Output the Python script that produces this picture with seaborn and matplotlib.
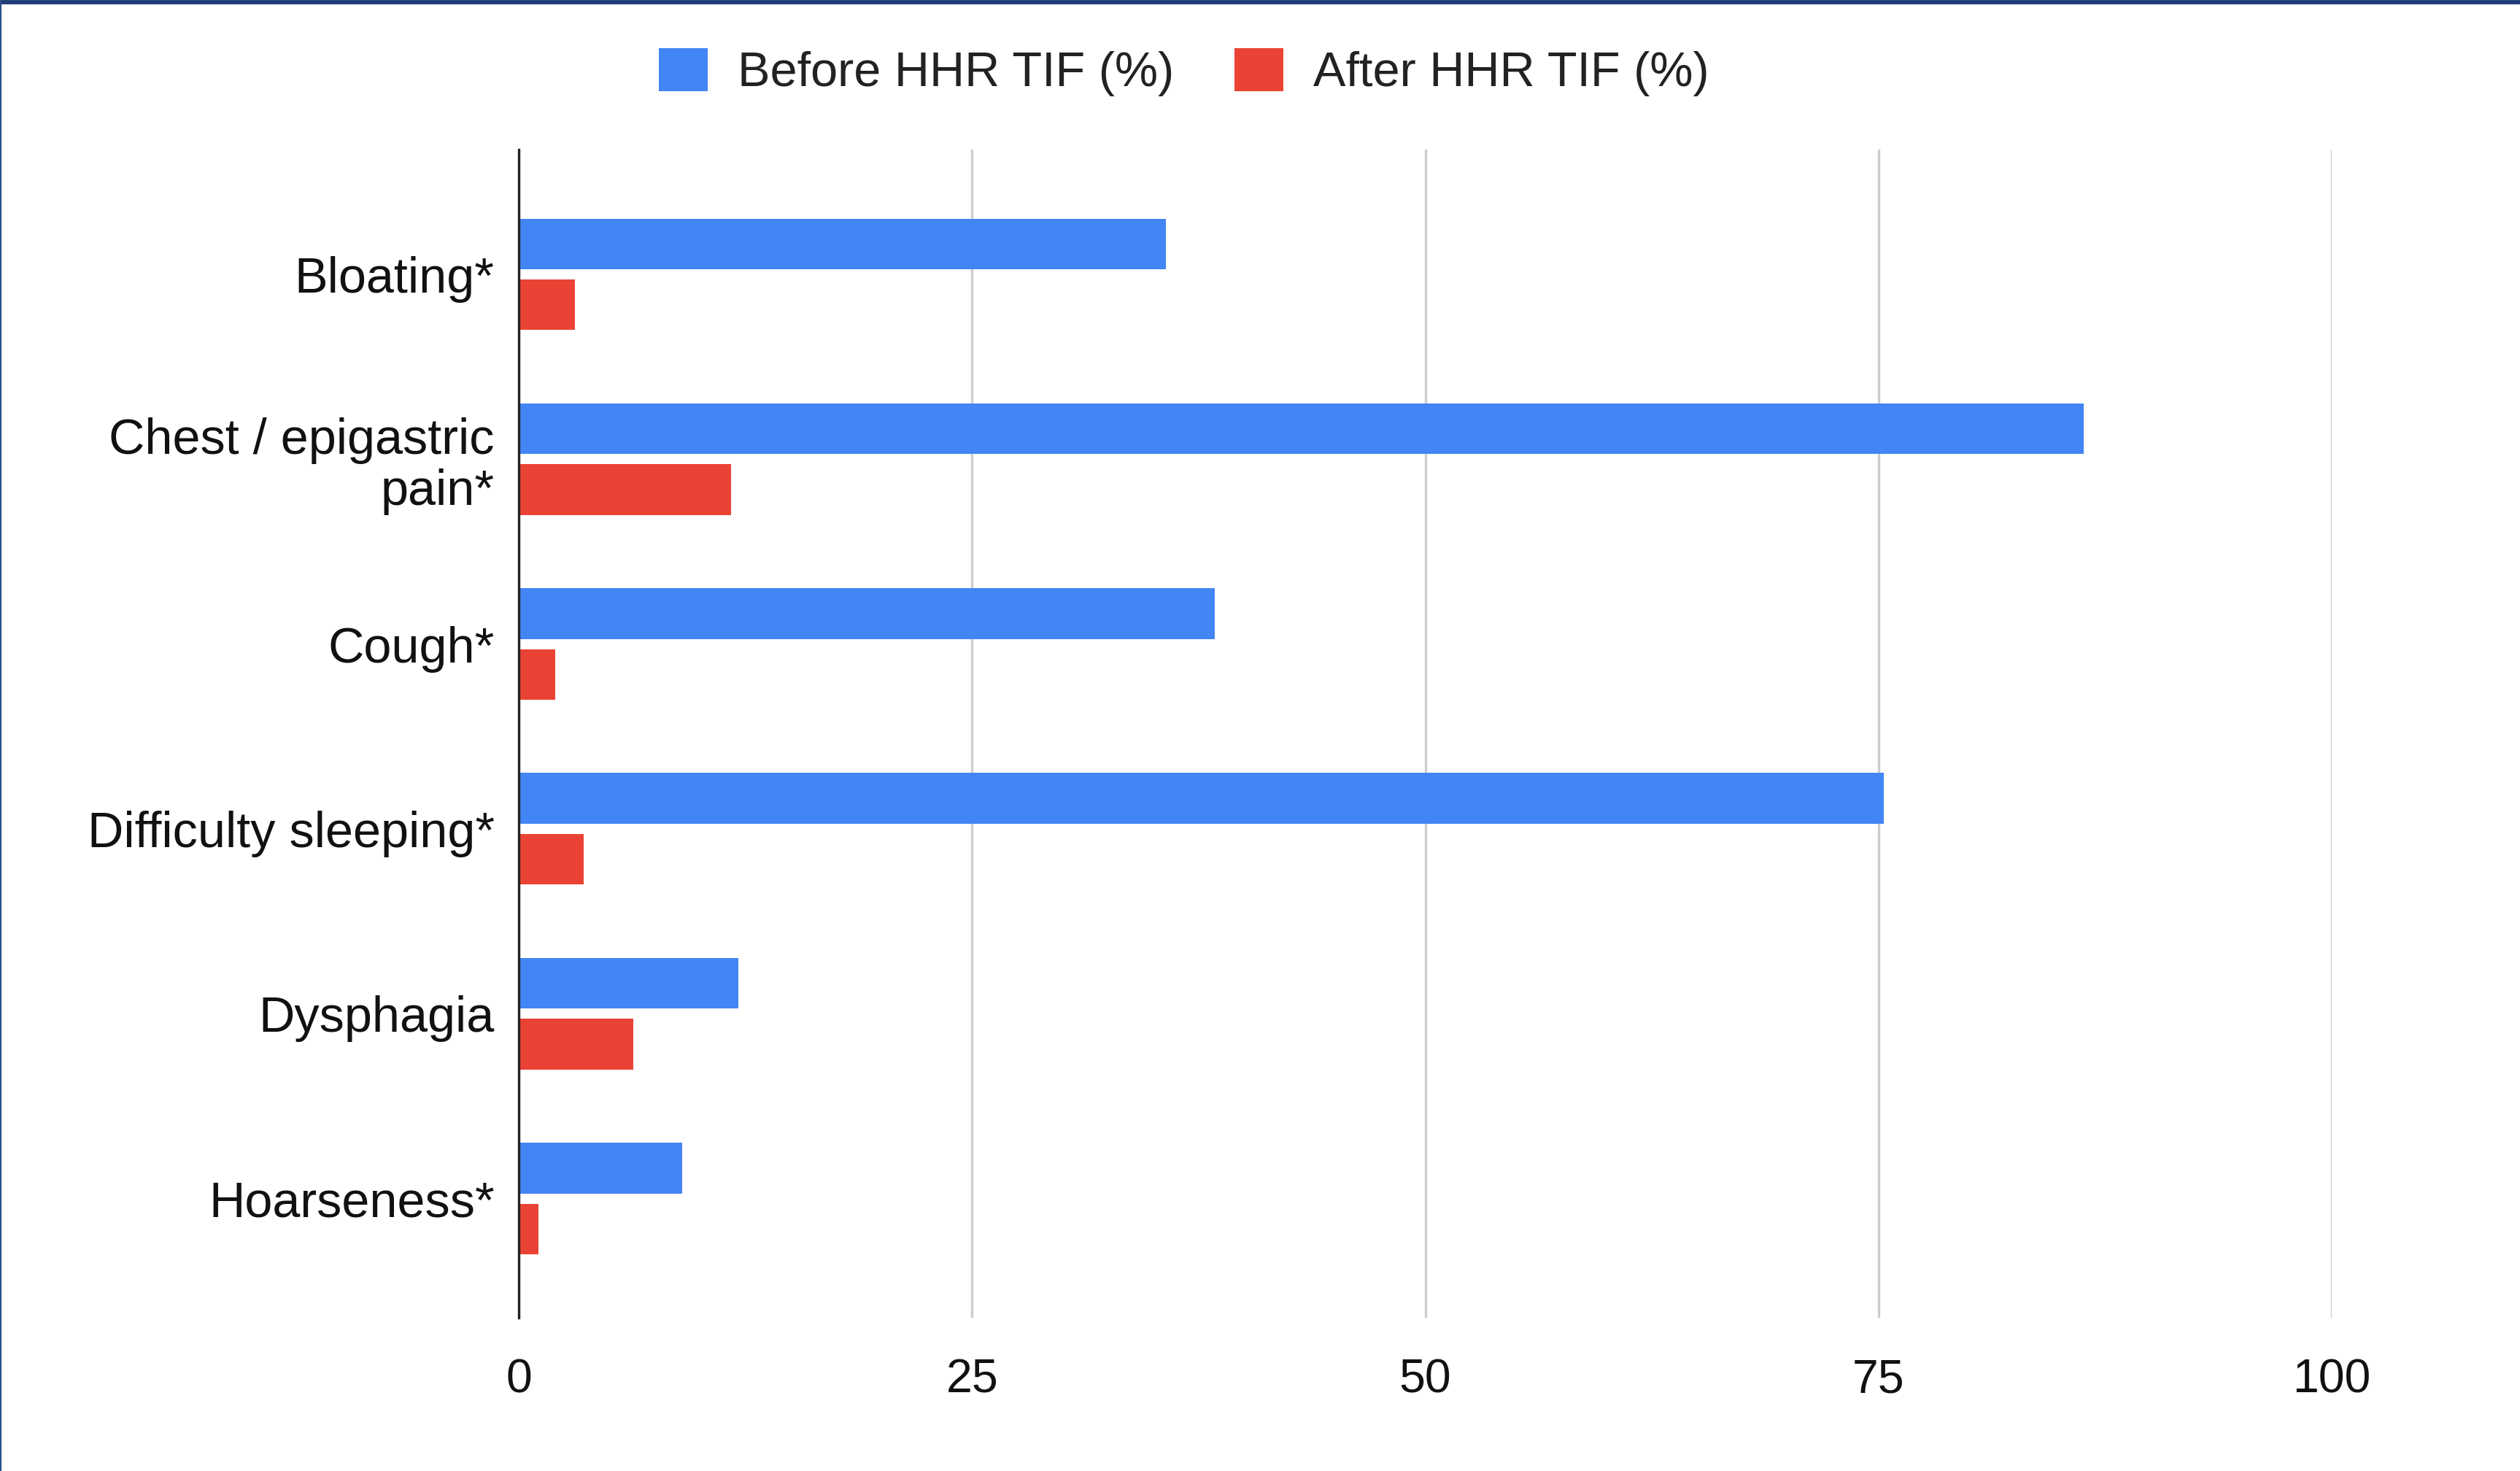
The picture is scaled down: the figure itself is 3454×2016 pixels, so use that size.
import matplotlib
matplotlib.use("Agg")
import matplotlib.pyplot as plt
from matplotlib.patches import Patch
from matplotlib.lines import Line2D
import seaborn as sns
import pandas as pd

# ---- data ----
symptoms = ["Bloating*", "Chest / epigastric\npain*", "Cough*",
            "Difficulty sleeping*", "Dysphagia", "Hoarseness*"]
before_vals = [35.7, 86.3, 38.4, 75.3, 12.1, 9.0]
after_vals = [3.1, 11.7, 2.0, 3.6, 6.3, 1.1]
series_names = ["Before HHR TIF (%)", "After HHR TIF (%)"]
x_ticks = [0, 25, 50, 75, 100]

BLUE = "#4285F4"
RED = "#EA4335"

df = pd.DataFrame({
    "symptom": symptoms * 2,
    "value": before_vals + after_vals,
    "series": [series_names[0]] * len(symptoms) + [series_names[1]] * len(symptoms),
})

sns.set_style("white")
plt.rcParams["font.family"] = ["Liberation Sans", "DejaVu Sans"]

DPI = 200
fig = plt.figure(figsize=(3454 / DPI, 2016 / DPI), dpi=DPI)
ax = fig.add_axes([711 / 3454, 1 - 1806 / 2016, (3196 - 711) / 3454, (1806 - 205) / 2016])

sns.barplot(data=df, y="symptom", x="value", hue="series", orient="h",
            palette=[BLUE, RED], width=0.66, gap=0.17, legend=False, ax=ax,
            saturation=1, linewidth=0, order=symptoms, hue_order=series_names)

ax.set_xlim(0, 100)
ax.set_ylim(len(symptoms) - 1 + 0.645, -0.675)
ax.set_xticks(x_ticks)
ax.set_xticklabels([str(t) for t in x_ticks])
ax.set_xlabel("")
ax.set_ylabel("")
ax.grid(axis="x", color="#CCCCCC", linewidth=1.2)
ax.grid(axis="y", visible=False)
ax.set_axisbelow(True)
for s in ["top", "right", "bottom"]:
    ax.spines[s].set_visible(False)
ax.spines["left"].set_color("#222222")
ax.spines["left"].set_linewidth(1.2)
ax.spines["left"].set_zorder(5)
ax.tick_params(axis="y", length=0, pad=12, labelsize=24.6, labelcolor="#111111")
ax.tick_params(axis="x", length=0, pad=20, labelsize=23.2, labelcolor="#111111")
for lbl in ax.get_yticklabels():
    lbl.set_horizontalalignment("right")
    lbl.set_multialignment("right")
    lbl.set_linespacing(1.12)

handles = [Patch(facecolor=BLUE, edgecolor="none"), Patch(facecolor=RED, edgecolor="none")]
fig.legend(handles, series_names, loc="center", bbox_to_anchor=(1623 / 3454, 1 - 99 / 2016),
           ncol=2, frameon=False, fontsize=24.0, handlelength=1.0, handleheight=1.0,
           handletextpad=0.62, columnspacing=1.25, labelcolor="#222222")

# frame lines of the original screenshot
fig.add_artist(Line2D([0, 1], [1 - 2.5 / 2016, 1 - 2.5 / 2016], transform=fig.transFigure,
                      color="#1C3D75", linewidth=2.1))
fig.add_artist(Line2D([0.8 / 3454, 0.8 / 3454], [0, 1], transform=fig.transFigure,
                      color="#2B4E8C", linewidth=0.8))

fig.savefig("out.png", dpi=DPI, facecolor="white")
